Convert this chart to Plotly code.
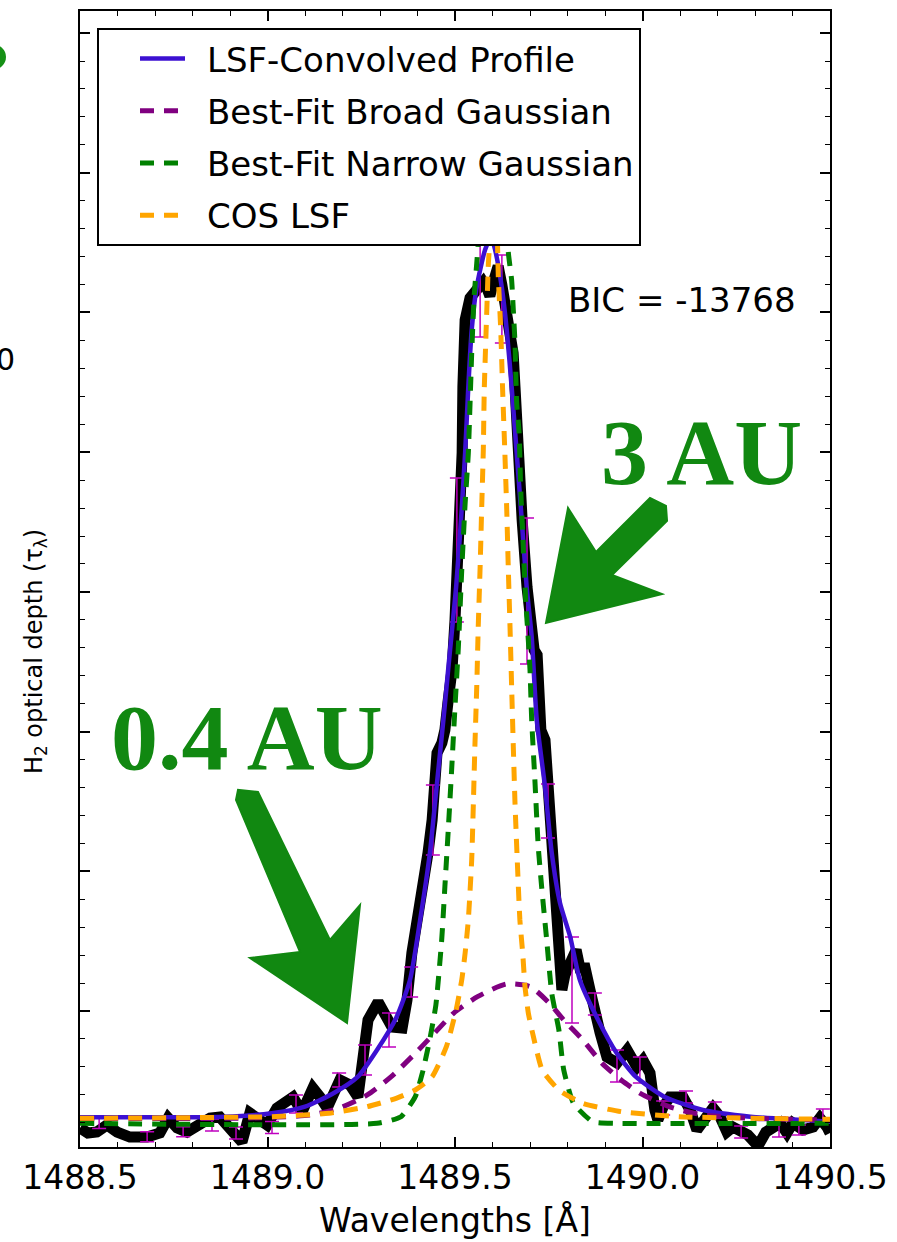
import plotly.graph_objects as go

# ---------------- data ----------------
black_wl = [1488.500, 1488.521, 1488.545, 1488.572, 1488.599, 1488.633, 1488.679, 1488.713, 1488.735, 1488.759,
            1488.785, 1488.812, 1488.847, 1488.873, 1488.908, 1488.932, 1488.953, 1488.980, 1488.999, 1489.025,
            1489.052, 1489.068, 1489.092, 1489.121, 1489.140, 1489.159, 1489.193, 1489.220, 1489.241, 1489.257,
            1489.268, 1489.295, 1489.313, 1489.332, 1489.359, 1489.372, 1489.385, 1489.401, 1489.415, 1489.428,
            1489.439, 1489.447, 1489.452, 1489.465, 1489.473, 1489.481, 1489.492, 1489.500, 1489.505, 1489.513,
            1489.519, 1489.521, 1489.527, 1489.540, 1489.559, 1489.575, 1489.585, 1489.593, 1489.604, 1489.615,
            1489.625, 1489.639, 1489.649, 1489.655, 1489.660, 1489.668, 1489.679, 1489.692, 1489.703, 1489.711,
            1489.719, 1489.724, 1489.729, 1489.740, 1489.748, 1489.759, 1489.767, 1489.775, 1489.780, 1489.785,
            1489.793, 1489.807, 1489.823, 1489.833, 1489.847, 1489.860, 1489.871, 1489.887, 1489.905, 1489.932,
            1489.959, 1489.985, 1490.001, 1490.020, 1490.033, 1490.041, 1490.055, 1490.073, 1490.108, 1490.127,
            1490.145, 1490.161, 1490.188, 1490.207, 1490.225, 1490.241, 1490.281, 1490.308, 1490.329, 1490.367,
            1490.385, 1490.401, 1490.428, 1490.455, 1490.473, 1490.492, 1490.500]
black_tau = [0.0812, 0.0633, 0.0669, 0.0920, 0.0669, 0.0490, 0.0490, 0.0633, 0.1170, 0.0812,
             0.0669, 0.0920, 0.1170, 0.1206, 0.0669, 0.0311, 0.1349, 0.1099, 0.0920, 0.1528,
             0.1815, 0.1922, 0.1385, 0.2244, 0.1922, 0.1528, 0.2530, 0.2351, 0.1922, 0.3425,
             0.4678, 0.5322, 0.4964, 0.4427, 0.4391, 0.5394, 0.7076, 0.8257, 0.9438, 1.0655,
             1.1836, 1.3017, 1.4234, 1.4592, 1.5057, 1.6023, 1.7204, 1.8994, 2.0175, 2.2573,
             2.4971, 2.7333, 2.9731, 3.0518, 3.0804, 3.1091, 3.0876, 3.0590, 3.1162, 3.1663,
             3.0983, 2.9802, 2.9194, 2.8550, 2.7333, 2.4971, 2.2573, 2.0175, 1.8385, 1.7920,
             1.7741, 1.6488, 1.5057, 1.4699, 1.3017, 1.1227, 0.9438, 0.7648, 0.6467, 0.5752,
             0.6288, 0.6646, 0.7183, 0.6539, 0.6539, 0.5752, 0.4964, 0.4213, 0.3354, 0.3139,
             0.3604, 0.2996, 0.3246, 0.2781, 0.1457, 0.1099, 0.1564, 0.1922, 0.1922, 0.1457,
             0.0741, 0.0991, 0.1528, 0.1206, 0.0669, 0.0848, 0.0562, 0.0168, 0.0669, 0.0991,
             0.0633, 0.0991, 0.0741, 0.0848, 0.1170, 0.0848, 0.0633]

err_wl = [1488.551, 1488.679, 1488.775, 1488.852, 1488.916, 1489.012, 1489.076, 1489.191, 1489.260, 1489.324,
          1489.383, 1489.441, 1489.505, 1489.567, 1489.625, 1489.692, 1489.748, 1489.812, 1489.873, 1489.932,
          1489.993, 1490.055, 1490.116, 1490.193, 1490.263, 1490.364, 1490.417, 1490.481]
err_tau = [0.1009, 0.0501, 0.0680, 0.0920, 0.0633, 0.0830, 0.1671, 0.2530, 0.3246, 0.4320,
           0.6038, 1.1836, 2.1499, 3.0804, 3.0483, 2.0032, 1.2158, 0.6110, 0.5250, 0.3031,
           0.2888, 0.1528, 0.1922, 0.1457, 0.0669, 0.0848, 0.0741, 0.1242]
err_sig = [0.0215, 0.0179, 0.0179, 0.0215, 0.0215, 0.0215, 0.0322, 0.0250, 0.0537, 0.0608,
           0.0537, 0.1253, 0.2577, 0.1682, 0.1575, 0.2613, 0.0966, 0.1539, 0.0394, 0.0573,
           0.0465, 0.0250, 0.0215, 0.0286, 0.0215, 0.0358, 0.0179, 0.0250]

lsf_conv_wl = [1488.500, 1488.883, 1489.011, 1489.100, 1489.177, 1489.241, 1489.292, 1489.343, 1489.380, 1489.407,
               1489.433, 1489.451, 1489.469, 1489.486, 1489.503, 1489.516, 1489.527, 1489.5355, 1489.5445, 1489.558,
               1489.580, 1489.596, 1489.607, 1489.6245, 1489.638, 1489.651, 1489.6645, 1489.678, 1489.691, 1489.7045,
               1489.718, 1489.740, 1489.758, 1489.780, 1489.807, 1489.833, 1489.879, 1489.931, 1489.982, 1490.058,
               1490.161, 1490.288, 1490.500]
lsf_conv_tau = [0.1195, 0.1217, 0.1339, 0.1575, 0.2065, 0.2649, 0.3604, 0.4750, 0.6110, 0.8257,
                1.0655, 1.3028, 1.5415, 1.7810, 2.0175, 2.2573, 2.4971, 2.7344, 2.9374, 3.0923,
                3.2237, 3.2700, 3.2237, 3.0923, 2.9374, 2.7344, 2.4971, 2.2573, 2.0186, 1.8397,
                1.5415, 1.3028, 1.0655, 0.8865, 0.7660, 0.6110, 0.4750, 0.3497, 0.2649, 0.1933,
                0.1457, 0.1217, 0.1038]

broad_wl = [1488.500, 1488.953, 1489.113, 1489.190, 1489.266, 1489.330, 1489.394, 1489.445, 1489.496, 1489.560,
            1489.637, 1489.701, 1489.752, 1489.790, 1489.841, 1489.892, 1489.943, 1489.994, 1490.071, 1490.161,
            1490.288, 1490.500]
broad_tau = [0.1152, 0.1170, 0.1274, 0.1518, 0.1994, 0.2649, 0.3486, 0.4202, 0.4918, 0.5512,
             0.5966, 0.5870, 0.5276, 0.4678, 0.3962, 0.3128, 0.2530, 0.2054, 0.1575, 0.1278,
             0.1160, 0.1099]

narrow_wl = [1488.500, 1489.292, 1489.356, 1489.394, 1489.413, 1489.4325, 1489.449, 1489.4645, 1489.473, 1489.482,
             1489.491, 1489.500, 1489.509, 1489.518, 1489.527, 1489.5355, 1489.5445, 1489.551, 1489.558, 1489.562,
             1489.580, 1489.604, 1489.628, 1489.642, 1489.651, 1489.6555, 1489.660, 1489.6645, 1489.671, 1489.675,
             1489.682, 1489.689, 1489.6955, 1489.700, 1489.7045, 1489.713, 1489.722, 1489.731, 1489.7445, 1489.758,
             1489.777, 1489.790, 1489.816, 1489.867, 1489.931, 1490.500]
narrow_tau = [0.098, 0.098, 0.1217, 0.1933, 0.2781, 0.3962, 0.5215, 0.7541, 0.9449, 1.1478,
              1.3626, 1.5891, 1.8039, 2.0784, 2.3171, 2.4961, 2.854, 3.0566, 3.1761, 3.2477,
              3.58, 3.78, 3.58, 3.2176, 3.1163, 3.009, 2.8909, 2.6761, 2.5687, 2.3765,
              2.1618, 1.9592, 1.8278, 1.7205, 1.5415, 1.3268, 1.0881, 0.9449, 0.7541, 0.5634,
              0.432, 0.2888, 0.1696, 0.1038, 0.098, 0.098]

cos_lsf_wl = [1488.500, 1489.011, 1489.164, 1489.266, 1489.343, 1489.394, 1489.439, 1489.477, 1489.503, 1489.518,
              1489.527, 1489.5355, 1489.5445, 1489.549, 1489.553, 1489.558, 1489.562, 1489.567, 1489.571, 1489.5755,
              1489.578, 1489.583, 1489.586, 1489.589, 1489.596, 1489.604, 1489.612, 1489.6155, 1489.622, 1489.627,
              1489.633, 1489.638, 1489.642, 1489.6467, 1489.651, 1489.6555, 1489.660, 1489.666, 1489.673, 1489.6805,
              1489.6867, 1489.6955, 1489.707, 1489.7325, 1489.777, 1489.841, 1489.9435, 1490.097, 1490.500]
cos_lsf_tau = [0.116, 0.1217, 0.1339, 0.1575, 0.1875, 0.2172, 0.2648, 0.3722, 0.5036, 0.611,
               0.7076, 0.8257, 1.0404, 1.2444, 1.4459, 1.6607, 1.8754, 2.0901, 2.2931, 2.5078,
               2.7225, 2.9373, 3.0565, 3.176, 3.31, 3.47, 3.31, 3.128, 2.9373, 2.7225,
               2.496, 2.2931, 2.0901, 1.8754, 1.6607, 1.4459, 1.2444, 1.0404, 0.8257, 0.7076,
               0.587, 0.4928, 0.4202, 0.2888, 0.2172, 0.1696, 0.1396, 0.1217, 0.1124]

x_ticks = [1488.5, 1489.0, 1489.5, 1490.0, 1490.5]
x_ticklabels = ["1488.5", "1489.0", "1489.5", "1490.0", "1490.5"]

# ---------------- figure ----------------
FONT = "DejaVu Sans"
W, H = 897, 1242
ML, MR, MT, MB = 80, 67, 11, 95
PW, PH = W - ML - MR, H - MT - MB


def paper(px, py):
    return (px - ML) / PW, (H - MB - py) / PH


fig = go.Figure()

fig.add_trace(go.Scatter(x=black_wl, y=black_tau, mode="lines",
                         line=dict(color="black", width=11), showlegend=False, hoverinfo="skip"))
fig.add_trace(go.Scatter(x=err_wl, y=err_tau, mode="markers",
                         marker=dict(size=1, color="rgba(0,0,0,0)"),
                         error_y=dict(type="data", array=err_sig, color="#bf00bf", thickness=1.5, width=7),
                         showlegend=False, hoverinfo="skip"))

dash = "14px,10px"
SP = "\u2002"
fig.add_trace(go.Scatter(x=lsf_conv_wl, y=lsf_conv_tau, mode="lines", name=SP + "LSF-Convolved Profile",
                         legendgroup="a", line=dict(color="#3c10d2", width=4.5, shape="spline", smoothing=0.6)))
fig.add_trace(go.Scatter(x=broad_wl, y=broad_tau, mode="lines", name=SP + "Best-Fit Broad Gaussian",
                         legendgroup="b", line=dict(color="#800080", width=5, dash=dash, shape="spline", smoothing=0.6)))
fig.add_trace(go.Scatter(x=narrow_wl, y=narrow_tau, mode="lines", name=SP + "Best-Fit Narrow Gaussian",
                         legendgroup="c", line=dict(color="#008000", width=5, dash=dash, shape="spline", smoothing=0.5)))
fig.add_trace(go.Scatter(x=cos_lsf_wl, y=cos_lsf_tau, mode="lines", name=SP + "COS LSF",
                         legendgroup="d", line=dict(color="#ffa500", width=5, dash=dash, shape="spline", smoothing=0.5)))

green = "#118811"
shapes = []
arrow1 = [(546, 623), (568, 508), (596, 552), (650, 498), (666, 506), (667, 521), (612, 575), (662, 594)]
arrow2 = [(347, 1023), (250, 958), (300, 952), (236, 800), (238, 790), (258, 792), (330, 940), (360, 905)]
for poly in (arrow1, arrow2):
    pts = [paper(*p) for p in poly]
    path = "M " + " L ".join(f"{x:.4f},{y:.4f}" for x, y in pts) + " Z"
    shapes.append(dict(type="path", xref="paper", yref="paper", path=path,
                       fillcolor=green, line=dict(color=green, width=2), layer="above"))
c0 = paper(-22, 44)
c1 = paper(6, 70)
shapes.append(dict(type="circle", xref="paper", yref="paper", x0=c0[0], x1=c1[0], y0=c1[1], y1=c0[1],
                   fillcolor="#169016", line=dict(width=0)))

annotations = []
bx, by = paper(798, 300)
annotations.append(dict(x=bx, y=by, xref="paper", yref="paper", text="BIC = -13768", showarrow=False,
                        xanchor="right", yanchor="middle", font=dict(family=FONT, size=34, color="black")))
tx, ty = paper(701, 452)
annotations.append(dict(x=tx, y=ty, xref="paper", yref="paper", text="<b>3 AU</b>", showarrow=False,
                        xanchor="center", yanchor="middle",
                        font=dict(family="Liberation Serif", size=94, color=green)))
tx, ty = paper(247, 737)
annotations.append(dict(x=tx, y=ty, xref="paper", yref="paper", text="<b>0.4 AU</b>", showarrow=False,
                        xanchor="center", yanchor="middle",
                        font=dict(family="Liberation Serif", size=94, color=green)))
tx, ty = paper(17, 360)
annotations.append(dict(x=tx, y=ty, xref="paper", yref="paper", text="0", showarrow=False,
                        xanchor="right", yanchor="middle", font=dict(family=FONT, size=30, color="black")))
tx, ty = paper(35, 652)
annotations.append(dict(x=tx, y=ty, xref="paper", yref="paper",
                        text="H<sub>2</sub> optical depth (τ<sub>λ</sub>)", showarrow=False, textangle=-90,
                        xanchor="center", yanchor="middle", font=dict(family=FONT, size=24, color="black")))

lx, ly = paper(97, 28)
fig.update_layout(
    width=W, height=H,
    margin=dict(l=ML, r=MR, t=MT, b=MB, autoexpand=False),
    paper_bgcolor="white", plot_bgcolor="white",
    font=dict(family=FONT, color="black"),
    showlegend=True,
    legend=dict(x=lx, y=ly, xanchor="left", yanchor="top", bgcolor="white", bordercolor="black",
                borderwidth=2, font=dict(family=FONT, size=34, color="black"), traceorder="grouped",
                tracegroupgap=5, itemwidth=45, indentation=36),
    xaxis=dict(range=[1488.5, 1490.5], tickmode="array", tickvals=x_ticks, ticktext=x_ticklabels,
               ticks="inside", ticklen=10, tickwidth=1.5, tickcolor="black",
               minor=dict(dtick=0.1, tick0=1488.5, ticks="inside", ticklen=5, tickwidth=1, tickcolor="black"),
               showline=True, linecolor="black", linewidth=2, mirror="ticks", showgrid=False, zeroline=False,
               tickfont=dict(family=FONT, size=33, color="black"), ticklabelstandoff=0,
               title=dict(text="Wavelengths [Å]", font=dict(family=FONT, size=33, color="black"), standoff=13)),
    yaxis=dict(range=[0.0132, 4.079], tickmode="linear", tick0=0, dtick=0.5,
               ticks="inside", ticklen=10, tickwidth=1.5, tickcolor="black",
               minor=dict(dtick=0.1, tick0=0, ticks="inside", ticklen=5, tickwidth=1, tickcolor="black"),
               showline=True, linecolor="black", linewidth=2, mirror="ticks", showgrid=False, zeroline=False,
               showticklabels=False),
    shapes=shapes,
    annotations=annotations,
)

fig.write_html("out.html", config={"displayModeBar": False},
               post_script="document.body.style.margin='0';document.body.style.overflow='hidden';")
